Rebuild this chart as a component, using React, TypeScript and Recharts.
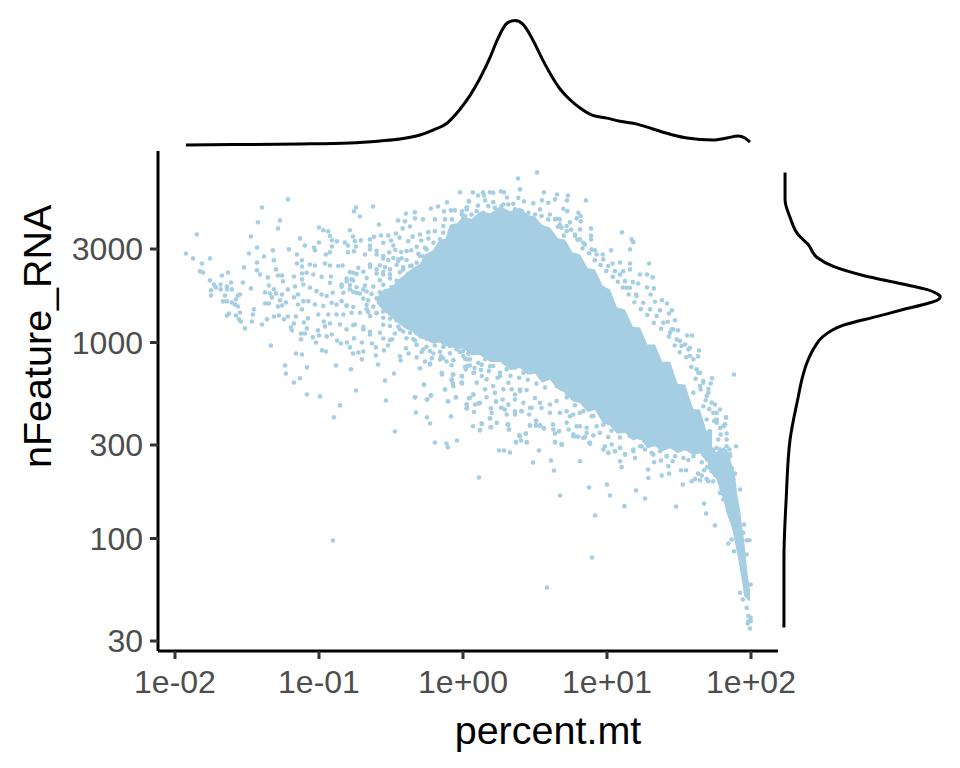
import {
  Area,
  ComposedChart,
  Line,
  LineChart,
  Scatter,
  XAxis,
  YAxis,
} from "recharts";

// everything is on log10 scale: x = log10(percent.mt), y = log10(nFeature_RNA)
const xTicks = [-2, -1, 0, 1, 2];
const xTickLabels = ["1e-02", "1e-01", "1e+00", "1e+01", "1e+02"];
const yTicks = [1.477, 2, 2.477, 3, 3.477];
const yTickLabels = ["30", "100", "300", "1000", "3000"];

const xDomain = [-2.118, 2.1875];
const yDomain = [1.426, 3.977];

// solid part of the cloud: [x, low, high]
const coreBand = [
  [-0.6, 3.2, 3.23], [-0.55, 3.16, 3.27], [-0.5, 3.13, 3.28], [-0.45, 3.1, 3.32], [-0.4, 3.07, 3.35],
  [-0.35, 3.055, 3.38], [-0.3, 3.02, 3.4], [-0.264, 3.015, 3.449], [-0.21, 2.995, 3.47], [-0.16, 3, 3.526],
  [-0.12, 2.98, 3.53], [-0.09, 2.985, 3.602], [-0.04, 2.96, 3.61], [0, 2.97, 3.643], [0.06, 2.935, 3.63],
  [0.118, 2.935, 3.668], [0.19, 2.9, 3.66], [0.257, 2.9, 3.694], [0.33, 2.86, 3.67], [0.396, 2.87, 3.689],
  [0.45, 2.835, 3.65], [0.5, 2.84, 3.643], [0.55, 2.795, 3.6], [0.604, 2.81, 3.587], [0.66, 2.76, 3.53],
  [0.708, 2.745, 3.526], [0.76, 2.7, 3.46], [0.813, 2.69, 3.449], [0.865, 2.645, 3.38], [0.917, 2.655, 3.372],
  [0.97, 2.59, 3.29], [1.021, 2.575, 3.27], [1.07, 2.535, 3.18], [1.125, 2.54, 3.168], [1.18, 2.5, 3.08],
  [1.229, 2.512, 3.077], [1.28, 2.46, 2.99], [1.333, 2.47, 2.99], [1.385, 2.445, 2.9], [1.438, 2.46, 2.903],
  [1.49, 2.435, 2.79], [1.542, 2.45, 2.786], [1.6, 2.425, 2.66], [1.646, 2.435, 2.658], [1.69, 2.39, 2.55],
  [1.729, 2.4, 2.556],
];

const tailBand = [
  [1.7, 2.36, 2.43], [1.73, 2.33, 2.46], [1.762, 2.3, 2.44], [1.785, 2.24, 2.47], [1.808, 2.2, 2.44],
  [1.83, 2.13, 2.46], [1.855, 2.08, 2.41], [1.872, 2.04, 2.36], [1.889, 1.978, 2.33], [1.905, 1.92, 2.22],
  [1.924, 1.842, 2.148], [1.938, 1.78, 2.06], [1.952, 1.706, 1.995], [1.975, 1.689, 1.825], [1.993, 1.68, 1.74],
];

const farLeftPoints = [
  [-1.924, 3.454], [-1.875, 3.429], [-1.848, 3.551], [-1.813, 3.403], [-1.757, 3.429], [-1.827, 3.363],
  [-1.806, 3.357], [-1.757, 3.317], [-1.73, 3.296], [-1.75, 3.266], [-1.75, 3.24], [-1.716, 3.281],
  [-1.683, 3.296], [-1.674, 3.342], [-1.632, 3.357], [-1.683, 3.271], [-1.639, 3.286], [-1.639, 3.271],
  [-1.611, 3.306], [-1.605, 3.271], [-1.653, 3.24], [-1.667, 3.21], [-1.639, 3.21], [-1.605, 3.204],
  [-1.563, 3.24], [-1.549, 3.245], [-1.577, 3.22], [-1.584, 3.194], [-1.563, 3.184], [-1.625, 3.148],
  [-1.639, 3.138], [-1.577, 3.138], [-1.549, 3.153], [-1.556, 3.118], [-1.542, 3.107], [-1.514, 3.072],
  [-1.528, 3.306], [-1.473, 3.276], [-1.521, 3.383], [-1.486, 3.454], [-1.473, 3.541], [-1.431, 3.485],
  [-1.424, 3.613], [-1.396, 3.689], [-1.431, 3.408], [-1.431, 3.368], [-1.41, 3.347], [-1.382, 3.439],
  [-1.32, 3.47], [-1.313, 3.419], [-1.299, 3.373], [-1.355, 3.332], [-1.285, 3.342], [-1.257, 3.342],
  [-1.348, 3.291], [-1.375, 3.255], [-1.341, 3.25], [-1.313, 3.271], [-1.327, 3.23], [-1.299, 3.25],
  [-1.257, 3.245], [-1.375, 3.199], [-1.348, 3.199], [-1.271, 3.215], [-1.285, 3.184], [-1.257, 3.189],
  [-1.23, 3.204], [-1.452, 3.169], [-1.459, 3.143], [-1.466, 3.107], [-1.396, 3.092], [-1.361, 3.118],
  [-1.313, 3.133], [-1.278, 3.138], [-1.243, 3.118], [-1.216, 3.133], [-1.334, 2.985], [-1.285, 3.582],
  [-1.271, 3.623], [-1.216, 3.73], [-1.209, 3.475], [-1.153, 3.449], [-1.153, 3.403], [-1.118, 3.419],
  [-1.118, 3.388], [-1.174, 3.337], [-1.118, 3.352], [-1.118, 3.322], [-1.25, 3.312], [-1.216, 3.271],
  [-1.167, 3.286], [-1.174, 3.23], [-1.146, 3.245], [-1.146, 3.194], [-1.118, 3.169], [-1.16, 3.133],
  [-1.174, 3.097], [-1.195, 3.077], [-1.188, 3.062], [-1.105, 3.102], [-1.077, 3.123], [-1.084, 3.072],
  [-1.125, 3.046], [-1.098, 3.046], [-1.125, 3.016], [-1.16, 2.944], [-1.118, 2.939], [-1.236, 2.883],
  [-1.23, 2.842], [-1.174, 2.796], [-1.132, 2.817], [-1.084, 2.873], [-1.084, 2.735], [-0.993, 2.725],
  [-0.903, 1.99],
];

const upperLeftPoints = [
  [-1.132, 3.531], [-1.098, 3.495], [-1.035, 3.485], [-1, 3.51], [-1, 3.587], [-0.97, 3.573],
  [-0.936, 3.567], [-0.924, 3.543], [-0.91, 3.522], [-0.875, 3.516], [-0.91, 3.49], [-0.924, 3.46],
  [-0.952, 3.449], [-1.028, 3.47], [-0.785, 3.573], [-0.764, 3.541], [-0.757, 3.669], [-0.743, 3.689],
  [-0.716, 3.643], [-0.625, 3.694], [-0.584, 3.602], [-0.82, 3.51], [-0.799, 3.495], [-0.799, 3.46],
  [-0.75, 3.517], [-0.743, 3.49], [-0.709, 3.521], [-0.757, 3.465], [-0.681, 3.449], [-0.646, 3.526],
  [-0.618, 3.539], [-0.646, 3.495], [-0.57, 3.546], [-0.519, 3.546], [-0.466, 3.556], [-0.419, 3.582],
  [-0.452, 3.623], [-0.403, 3.618], [-0.396, 3.658], [-0.334, 3.664], [-0.334, 3.633], [-0.368, 3.592],
  [-0.278, 3.628], [-0.223, 3.684], [-0.174, 3.694], [-0.111, 3.715], [-0.021, 3.766], [0.041, 3.72],
  [0.027, 3.689], [-0.132, 3.669], [-0.084, 3.674], [-0.056, 3.674], [-0.007, 3.669], [-0.195, 3.628],
  [-0.125, 3.628], [-0.077, 3.628], [0.002, 3.636], [-0.299, 3.551], [-0.241, 3.563], [-0.195, 3.568],
  [-0.137, 3.594], [-0.056, 3.594], [-0.554, 3.509], [-0.484, 3.495], [-0.38, 3.517], [-0.322, 3.488],
  [-0.264, 3.483], [-0.392, 3.466], [-0.554, 3.441], [-0.6, 3.449], [-0.646, 3.475],
];

const middlePoints = [
  [-1.063, 3.398], [-1.028, 3.393], [-0.959, 3.403], [-0.924, 3.393], [-0.866, 3.39], [-0.836, 3.393],
  [-1.086, 3.356], [-1.04, 3.347], [-0.982, 3.335], [-0.917, 3.337], [-1.109, 3.296], [-1.063, 3.279],
  [-1.017, 3.262], [-0.982, 3.245], [-0.947, 3.237], [-0.905, 3.254], [-0.924, 3.305], [-0.843, 3.296],
  [-0.808, 3.313], [-0.774, 3.322], [-0.831, 3.254], [-0.785, 3.271], [-0.739, 3.254], [-0.692, 3.271],
  [-0.762, 3.356], [-0.727, 3.381], [-0.646, 3.398], [-0.6, 3.373], [-0.554, 3.347], [-0.507, 3.373],
  [-0.449, 3.424], [-0.415, 3.373], [-0.368, 3.39], [-0.322, 3.407], [-1.109, 3.211], [-1.074, 3.211],
  [-1.028, 3.194], [-0.97, 3.186], [-0.912, 3.203], [-0.878, 3.194], [-0.843, 3.211], [-0.808, 3.186],
  [-0.774, 3.152], [-0.716, 3.152], [-0.669, 3.169], [-0.646, 3.135], [-0.6, 3.152], [-0.554, 3.126],
  [-0.507, 3.152], [-0.461, 3.169], [-1.005, 3.143], [-0.936, 3.143], [-0.878, 3.143], [-0.831, 3.143],
  [-0.855, 3.092], [-0.808, 3.067], [-0.75, 3.092], [-0.692, 3.067], [-0.646, 3.041], [-0.577, 3.05],
  [-0.507, 3.084], [-0.438, 3.067], [-0.345, 3.016], [-0.322, 2.99], [-0.276, 2.965], [-0.229, 2.956],
  [-0.183, 3.016], [-0.137, 2.999], [-0.091, 2.982], [-0.044, 2.965], [0, 2.956], [-0.368, 3.05],
  [-0.287, 3.041],
];

// denser clumps where the cloud starts to close up, left of the solid part
const clumpPoints = [
  [-0.554, 3.428], [-0.519, 3.42], [-0.484, 3.431], [-0.449, 3.417], [-0.426, 3.43], [-0.392, 3.421],
  [-0.646, 3.386], [-0.577, 3.394], [-0.542, 3.383], [-0.461, 3.397], [-0.415, 3.385], [-0.357, 3.393],
  [-0.785, 3.359], [-0.739, 3.35], [-0.692, 3.361], [-0.6, 3.352], [-0.554, 3.36], [-0.507, 3.348],
  [-0.438, 3.358], [-0.38, 3.351], [-0.808, 3.326], [-0.762, 3.316], [-0.669, 3.329], [-0.577, 3.318],
  [-0.507, 3.327], [-0.461, 3.315], [-0.843, 3.284], [-0.785, 3.293], [-0.739, 3.282], [-0.681, 3.291],
  [-0.623, 3.285], [-0.554, 3.294], [-0.496, 3.283], [-0.438, 3.29], [-0.762, 3.257], [-0.716, 3.25],
  [-0.669, 3.26], [-0.635, 3.248], [-0.577, 3.256], [-0.531, 3.249], [-0.473, 3.259], [-0.415, 3.251],
  [-0.692, 3.224], [-0.658, 3.215], [-0.6, 3.226], [-0.554, 3.218], [-0.507, 3.224], [-0.449, 3.214],
  [-0.808, 3.19], [-0.762, 3.181], [-0.669, 3.192], [-0.623, 3.183], [-0.554, 3.189], [-0.484, 3.18],
  [-0.438, 3.192], [-0.658, 3.155], [-0.6, 3.149], [-0.554, 3.158], [-0.496, 3.147], [-0.449, 3.156],
  [-0.392, 3.15], [-0.507, 3.121], [-0.461, 3.113], [-0.403, 3.124], [-0.345, 3.115], [-0.762, 3.088],
  [-0.692, 3.08], [-0.554, 3.09], [-0.449, 3.081], [-0.368, 3.087], [-0.299, 3.079], [-0.646, 3.055],
  [-0.473, 3.046], [-0.415, 3.056], [-0.322, 3.047], [-0.253, 3.053], [-0.554, 3.02], [-0.507, 3.012],
  [-0.392, 3.022], [-0.334, 3.011], [-0.253, 3.019], [-0.183, 3.013], [-0.125, 3.021], [-0.322, 2.987],
  [-0.253, 2.978], [-0.195, 2.985], [-0.137, 2.977], [-0.079, 2.986], [-0.021, 2.979], [0.025, 2.985],
  [-0.287, 2.952], [-0.206, 2.944], [-0.16, 2.953], [-0.091, 2.945], [-0.021, 2.951], [0.037, 2.943],
  [-0.137, 2.918], [-0.067, 2.91], [0.014, 2.917], [-0.079, 2.884], [0.014, 2.876], [0.048, 2.883],
  [-0.6, 3.468], [-0.512, 3.46], [-0.47, 3.472], [-0.43, 3.462], [-0.36, 3.47], [-0.31, 3.452],
  [-0.28, 3.44], [-0.5, 3.52], [-0.44, 3.535], [-0.35, 3.54], [-0.29, 3.52], [-0.24, 3.53],
];

// dots hugging the edge of the solid part, so that it does not end in a clean line
const edgePoints = [
  [0.639, 3.628], [0.673, 3.602], [0.72, 3.568], [0.778, 3.551], [0.812, 3.526], [0.847, 3.5],
  [0.893, 3.475], [0.928, 3.449], [0.974, 3.424], [1.009, 3.39], [1.055, 3.364], [1.09, 3.347],
  [1.125, 3.313], [1.16, 3.279], [1.206, 3.237], [1.252, 3.203], [1.299, 3.169], [1.345, 3.135],
  [1.391, 3.101], [1.449, 3.067], [1.484, 3.016], [1.518, 2.982], [1.565, 2.965], [1.6, 2.914],
  [1.634, 2.846], [1.669, 2.795], [1.704, 2.744], [1.727, 2.693], [1.761, 2.641], [1.808, 2.573],
  [1.831, 2.505], [0.66, 3.59], [0.7, 3.545], [0.75, 3.575], [0.795, 3.525], [0.83, 3.48],
  [0.875, 3.455], [0.915, 3.42], [0.955, 3.395], [0.995, 3.365], [1.04, 3.335], [1.075, 3.31],
  [1.11, 3.28], [1.15, 3.245], [1.19, 3.205], [1.235, 3.17], [1.28, 3.14], [1.325, 3.1],
  [1.375, 3.07], [1.43, 3.03], [1.47, 2.985], [1.505, 2.95], [1.55, 2.925], [1.585, 2.875],
  [1.615, 2.815], [1.65, 2.76], [1.685, 2.705], [1.71, 2.66], [1.745, 2.6], [1.79, 2.53],
  [-0.009, 3.653], [0.025, 3.679], [0.06, 3.653], [0.095, 3.67], [0.141, 3.662], [0.176, 3.696],
  [0.222, 3.687], [0.268, 3.696], [0.315, 3.704], [0.361, 3.679], [0.407, 3.67], [0.454, 3.662],
  [0.5, 3.653], [0.546, 3.645], [0.592, 3.628], [-0.299, 3.441], [-0.253, 3.475], [-0.206, 3.509],
  [-0.16, 3.526], [-0.137, 3.56], [-0.091, 3.568], [-0.044, 3.577], [-0.01, 3.611], [0.014, 3.645],
  [0.002, 2.931], [0.048, 2.914], [0.106, 2.896], [0.153, 2.914], [0.21, 2.88], [0.257, 2.846],
  [0.303, 2.863], [0.361, 2.871], [0.419, 2.846], [0.477, 2.871], [0.535, 2.829], [0.592, 2.846],
  [0.65, 2.778], [0.72, 2.72], [0.778, 2.68], [0.836, 2.65], [0.905, 2.625], [0.974, 2.58],
  [1.032, 2.55], [1.09, 2.515], [0.03, 2.88], [0.08, 2.87], [0.125, 2.86], [0.18, 2.855],
  [0.24, 2.82], [0.33, 2.83], [0.39, 2.82], [0.45, 2.81], [0.51, 2.79], [0.57, 2.77],
];

const lowerLeftPoints = [
  [-0.855, 2.679], [-0.896, 2.618], [-0.743, 2.755], [-0.778, 2.863], [-0.882, 2.883], [-0.979, 2.96],
  [-0.952, 2.954], [-1.042, 3.026], [-1, 3.036], [-1.021, 3], [-1.007, 3.062], [-0.959, 3.082],
  [-0.966, 3.107], [-0.924, 3.097], [-0.947, 3.031], [-0.912, 3.041], [-0.875, 3.01], [-0.848, 2.995],
  [-0.806, 3], [-0.785, 2.975], [-0.764, 2.944], [-0.727, 2.949], [-0.692, 2.954], [-0.702, 2.914],
  [-0.757, 3.021], [-0.702, 3], [-0.632, 2.995], [-0.605, 2.975], [-0.605, 2.934], [-0.59, 2.888],
  [-0.549, 2.96], [-0.521, 2.985], [-0.493, 3.016], [-0.438, 2.93], [-0.433, 2.908], [-0.378, 2.944],
  [-0.396, 2.97], [-0.322, 2.924], [-0.299, 2.868], [-0.264, 2.903], [-0.229, 2.888], [-0.216, 2.919],
  [-0.153, 2.929], [-0.146, 2.837], [-0.114, 2.903], [-0.542, 2.806], [-0.479, 2.842], [-0.535, 2.704],
  [-0.473, 2.546], [-0.327, 2.643], [-0.334, 2.72], [-0.271, 2.786], [-0.248, 2.71], [-0.223, 2.73],
  [-0.25, 2.618], [-0.229, 2.587], [-0.195, 2.49], [-0.114, 2.485], [-0.105, 2.465], [-0.042, 2.5],
  [-0.084, 2.623], [-0.104, 2.699], [-0.125, 2.761], [-0.049, 2.72], [-0.07, 2.791], [-0.077, 2.812],
  [-0.007, 2.791], [0.027, 2.684], [0.027, 2.664], [0.041, 2.715], [-0.007, 2.827], [0.02, 2.863],
  [-0.07, 2.837], [-0.16, 2.913], [-0.229, 2.893], [-0.148, 2.845], [-0.067, 2.836], [-0.079, 2.808],
  [-0.009, 2.794], [-0.067, 2.777], [-0.125, 2.76], [-0.222, 2.729], [-0.252, 2.709], [-0.333, 2.721],
  [-0.271, 2.785], [-0.104, 2.7], [-0.049, 2.721],
];

const topFringePoints = [
  [0.069, 3.766], [0.104, 3.75], [0.139, 3.766], [0.146, 3.75], [0.187, 3.766], [0.21, 3.764],
  [0.264, 3.771], [0.285, 3.766], [0.382, 3.837], [0.514, 3.868], [0.396, 3.781], [0.562, 3.766],
  [0.653, 3.755], [0.729, 3.75], [0.722, 3.725], [0.854, 3.725], [0.042, 3.72], [0.153, 3.725],
  [0.21, 3.716], [0.305, 3.74], [0.384, 3.738], [0.423, 3.72], [0.548, 3.725], [0.639, 3.73],
  [0.025, 3.689], [0.104, 3.699], [0.28, 3.704], [0.349, 3.708], [0.488, 3.71], [0.592, 3.713],
  [0.535, 3.679], [0.697, 3.682], [0.724, 3.67], [0.801, 3.662], [0.817, 3.645], [0.789, 3.633],
  [0.817, 3.618], [0.743, 3.613], [0.889, 3.582], [0.812, 3.577], [0.889, 3.546], [0.889, 3.526],
  [1.104, 3.562], [1.171, 3.526], [1.183, 3.512], [1.16, 3.475], [1.028, 3.47], [0.97, 3.449],
  [0.917, 3.471], [0.835, 3.509], [0.778, 3.543], [0.685, 3.585], [0.65, 3.631], [0.604, 3.653],
  [0.673, 3.628], [0.72, 3.594], [1.039, 3.403], [1.09, 3.408], [1.16, 3.403], [1.292, 3.403],
  [1.229, 3.347], [1.278, 3.347], [1.317, 3.332], [1.16, 3.373], [1.113, 3.364], [1.18, 3.308],
  [1.217, 3.301], [1.278, 3.281], [1.326, 3.276], [1.303, 3.245], [1.201, 3.245], [1.136, 3.279],
];

const rightFringePoints = [
  [1.333, 3.208], [1.382, 3.215], [1.417, 3.199], [1.368, 3.164], [1.451, 3.164], [1.43, 3.148],
  [1.472, 3.113], [1.421, 3.106], [1.493, 3.062], [1.556, 3.036], [1.59, 3.036], [1.46, 3.067],
  [1.437, 3.05], [1.507, 3.007], [1.542, 2.99], [1.576, 2.973], [1.639, 2.959], [1.632, 2.929],
  [1.576, 2.931], [1.622, 2.863], [1.646, 2.846], [1.882, 2.837], [1.729, 2.817], [1.72, 2.791],
  [1.669, 2.803], [1.704, 2.764], [1.692, 2.727], [1.75, 2.684], [1.785, 2.658], [1.826, 2.618],
  [1.819, 2.582], [1.831, 2.536], [1.896, 2.471], [1.738, 2.641], [1.761, 2.591], [1.646, 2.778],
  [1.6, 2.744], [1.669, 2.675], [1.692, 2.607], [1.715, 2.548], [1.773, 2.505], [1.831, 2.471],
  [1.738, 2.454], [1.785, 2.437], [1.854, 2.429], [1.827, 2.617], [1.82, 2.581], [1.785, 2.564],
  [1.762, 2.607],
];

const lowerFringePoints = [
  [0.025, 2.914], [-0.009, 2.829], [-0.009, 2.795], [0.095, 2.795], [0.076, 2.846], [0.13, 2.829],
  [0.164, 2.812], [0.21, 2.778], [0.153, 2.761], [0.072, 2.735], [0.048, 2.718], [0.025, 2.684],
  [0.025, 2.664], [0.118, 2.692], [0.083, 2.684], [0.076, 2.645], [0.222, 2.743], [0.28, 2.761],
  [0.338, 2.761], [0.396, 2.752], [0.442, 2.757], [0.361, 2.735], [0.275, 2.709], [0.229, 2.698],
  [0.361, 2.709], [0.419, 2.692], [0.477, 2.667], [0.535, 2.692], [0.604, 2.684], [0.264, 2.667],
  [0.291, 2.658], [0.194, 2.664], [0.199, 2.641], [0.303, 2.633], [0.361, 2.633], [0.407, 2.65],
  [0.46, 2.633], [0.187, 2.613], [0.13, 2.587], [0.069, 2.573], [0.194, 2.568], [0.234, 2.59],
  [0.31, 2.582], [0.319, 2.556], [0.118, 2.553], [0.465, 2.577], [0.507, 2.577], [0.535, 2.577],
  [0.562, 2.563], [0.507, 2.599], [0.625, 2.582], [0.639, 2.536], [0.667, 2.548], [0.391, 2.526],
  [0.435, 2.536], [0.368, 2.492], [0.403, 2.5], [0.442, 2.492], [0.639, 2.492], [0.685, 2.48],
  [0.528, 2.449], [0.25, 2.449], [0.285, 2.449], [0.326, 2.439], [0.766, 2.531], [0.801, 2.519],
  [0.847, 2.519], [0.877, 2.488], [0.905, 2.526], [0.951, 2.539], [1.009, 2.517], [0.986, 2.471],
  [1.009, 2.437], [1.055, 2.446], [1.09, 2.463], [1.125, 2.429], [1.183, 2.454], [1.241, 2.471],
  [1.31, 2.437], [1.414, 2.42], [0.72, 2.59], [0.789, 2.573], [0.859, 2.565], [0.928, 2.573],
  [0.974, 2.624], [0.673, 2.641], [0.743, 2.624], [0.812, 2.641], [0.893, 2.624], [0.604, 2.641],
  [0.65, 2.701], [0.72, 2.743], [0.789, 2.71], [0.859, 2.692], [0.951, 2.667], [1.044, 2.607],
  [1.113, 2.556], [1.16, 2.522], [1.229, 2.514], [1.299, 2.539], [1.368, 2.522], [1.461, 2.505],
  [1.53, 2.48], [1.6, 2.454], [1.669, 2.429], [1.484, 2.454], [1.368, 2.471], [0.072, 2.734],
  [0.106, 2.688], [0.164, 2.721], [0.229, 2.7], [0.269, 2.666], [0.315, 2.683], [0.361, 2.649],
  [0.407, 2.649], [0.465, 2.666], [0.188, 2.612], [0.13, 2.586], [0.118, 2.552], [0.192, 2.568],
  [0.315, 2.581], [0.319, 2.556], [0.396, 2.522], [0.437, 2.535], [0.368, 2.49], [0.444, 2.49],
  [0.507, 2.602], [0.507, 2.576], [0.535, 2.576], [0.562, 2.561], [0.465, 2.576], [0.627, 2.556],
  [0.667, 2.547], [0.639, 2.49], [0.687, 2.479], [0.072, 2.845], [0.13, 2.887], [0.188, 2.879],
  [0.257, 2.828], [0.315, 2.794], [0.396, 2.76], [0.5, 2.717], [0.546, 2.666], [0.72, 2.649],
  [0.766, 2.632], [0.812, 2.573], [0.859, 2.539], [0.836, 2.513], [0.766, 2.522], [0.734, 2.556],
  [0.882, 2.484],
];

const bottomPoints = [
  [0.813, 2.394], [0.686, 2.479], [0.778, 2.522], [0.882, 2.488], [0.975, 2.454], [1.033, 2.479],
  [1.01, 2.437], [1.056, 2.445], [1.091, 2.462], [1.125, 2.428], [1.091, 2.394], [1.102, 2.364],
  [1.183, 2.445], [1.195, 2.411], [1.264, 2.454], [1.322, 2.428], [1.327, 2.389], [1.375, 2.398],
  [1.285, 2.352], [1.287, 2.309], [1.426, 2.369], [1.456, 2.394], [1.38, 2.321], [1.431, 2.331],
  [1.514, 2.348], [1.549, 2.348], [1.526, 2.275], [1.588, 2.292], [1.611, 2.304], [1.632, 2.331],
  [1.658, 2.321], [1.646, 2.297], [1.692, 2.304], [1.704, 2.292], [1.737, 2.292], [1.674, 2.348],
  [1.695, 2.364], [1.658, 2.389], [1.531, 2.411], [1.565, 2.4], [1.6, 2.42], [1.473, 2.42],
  [1.415, 2.42], [1.368, 2.445], [1.23, 2.471], [0.875, 2.26], [1, 2.275], [1.021, 2.219],
  [0.674, 2.219], [1.202, 2.245], [1.264, 2.204], [1.121, 2.165], [0.917, 2.117], [0.896, 1.903],
  [1.48, 2.163], [1.674, 2.178], [1.688, 2.127], [1.75, 2.066], [0.583, 1.75], [0.111, 2.311],
  [0.632, 2.347], [0.486, 2.388], [0.611, 2.398],
];

const tailPoints = [
  [1.97, 1.646], [1.982, 1.604], [1.998, 1.595], [1.982, 1.578], [1.998, 1.578], [1.977, 1.566],
  [1.993, 1.541], [1.843, 1.974], [1.866, 1.995], [1.97, 1.991], [1.989, 1.991], [1.952, 2.071],
  [1.924, 2.25], [1.882, 1.935], [1.97, 1.918], [1.947, 2.029], [1.924, 1.723], [1.943, 1.689],
  [1.998, 1.765], [1.889, 2.331], [1.866, 2.36], [1.855, 2.42], [1.85, 2.454], [1.808, 2.454],
  [1.762, 2.462], [1.716, 2.42], [1.692, 2.445], [1.739, 2.437], [1.774, 2.403], [1.762, 2.352],
  [1.727, 2.343], [1.75, 2.326], [1.785, 2.233], [1.808, 2.199],
];

// marginal densities, scaled so that the peak is about 1
const topDensityX = [
  -1.924, -1.479, -1.132, -0.785, -0.576, -0.438, -0.299, -0.208, -0.111, -0.021, 0.049, 0.118,
  0.188, 0.243, 0.306, 0.361, 0.417, 0.486, 0.549, 0.604, 0.674, 0.743, 0.813, 0.896, 1, 1.09,
  1.208, 1.319, 1.458, 1.556, 1.736, 1.833, 1.91, 1.958, 1.993,
];
const topDensityY = [
  0.008, 0.012, 0.016, 0.024, 0.04, 0.055, 0.087, 0.126, 0.18, 0.29, 0.4, 0.535, 0.7, 0.85, 0.97,
  0.99, 0.96, 0.835, 0.69, 0.575, 0.45, 0.365, 0.3, 0.244, 0.22, 0.195, 0.173, 0.134, 0.087, 0.063,
  0.047, 0.063, 0.079, 0.063, 0.03,
];

const rightDensityY = [
  3.867, 3.73, 3.638, 3.551, 3.5, 3.434, 3.388, 3.342, 3.301, 3.27, 3.245, 3.235, 3.219, 3.199,
  3.168, 3.133, 3.087, 3.031, 2.98, 2.898, 2.811, 2.719, 2.505, 2.199, 1.893, 1.546,
];
const rightDensityX = [
  0.013, 0.013, 0.045, 0.096, 0.16, 0.217, 0.32, 0.51, 0.745, 0.917, 0.987, 1, 0.987, 0.917, 0.764,
  0.6, 0.38, 0.255, 0.204, 0.153, 0.12, 0.096, 0.045, 0.02, 0.006, 0.006,
];

const toPoints = (rows: number[][]) => rows.map(([x, y]) => ({ x, y }));
const toBand = (rows: number[][]) => rows.map(([x, low, high]) => ({ x, band: [low, high] }));

const topDensity = topDensityX.map((x, i) => ({ x, d: topDensityY[i] }));
const rightDensity = rightDensityY.map((y, i) => ({ y, d: rightDensityX[i] }));

const pointGroups = [
  farLeftPoints,
  upperLeftPoints,
  middlePoints,
  clumpPoints,
  edgePoints,
  lowerLeftPoints,
  topFringePoints,
  rightFringePoints,
  lowerFringePoints,
  bottomPoints,
  tailPoints,
];

const BLUE = "#A6CEE3";
const FONT = "'Liberation Sans', Arial, sans-serif";

const dot = (p: any) => <circle cx={p.cx} cy={p.cy} r={2.3} fill={BLUE} />;

export default function App() {
  const tickStyle = { fontSize: 32, fill: "#4D4D4D", fontFamily: FONT };
  const titleStyle = { fontSize: 39.5, fill: "#000000", fontFamily: FONT };

  return (
    <div style={{ position: "absolute", left: 0, top: 0, width: 960, height: 768, background: "#fff" }}>
      <div style={{ position: "absolute", left: 0, top: 0 }}>
        <ComposedChart width={960} height={768} margin={{ top: 151, right: 182, bottom: 0, left: 0 }}>
          <XAxis
            type="number"
            dataKey="x"
            domain={xDomain}
            ticks={xTicks}
            allowDataOverflow
            height={117}
            tick={tickStyle}
            tickSize={8}
            tickMargin={11}
            tickFormatter={(v: number) => xTickLabels[xTicks.indexOf(v)]}
            interval={0}
            axisLine={{ stroke: "#000", strokeWidth: 3 }}
            tickLine={{ stroke: "#333", strokeWidth: 3 }}
            label={{ value: "percent.mt", position: "insideBottom", offset: 24, dx: 80, style: titleStyle }}
          />
          <YAxis
            type="number"
            dataKey="y"
            domain={yDomain}
            ticks={yTicks}
            allowDataOverflow
            width={158}
            tick={tickStyle}
            tickSize={8}
            tickMargin={7}
            tickFormatter={(v: number) => yTickLabels[yTicks.indexOf(v)]}
            interval={0}
            axisLine={{ stroke: "#000", strokeWidth: 3 }}
            tickLine={{ stroke: "#333", strokeWidth: 3 }}
            label={{ value: "nFeature_RNA", angle: -90, position: "insideLeft", offset: 37, dy: 67, style: titleStyle }}
          />
          <Area
            data={toBand(coreBand)}
            dataKey="band"
            type="linear"
            stroke="none"
            fill={BLUE}
            fillOpacity={1}
            dot={false}
            activeDot={false}
            isAnimationActive={false}
          />
          <Area
            data={toBand(tailBand)}
            dataKey="band"
            type="linear"
            stroke="none"
            fill={BLUE}
            fillOpacity={1}
            dot={false}
            activeDot={false}
            isAnimationActive={false}
          />
          {pointGroups.map((rows, i) => (
            <Scatter key={i} data={toPoints(rows)} fill={BLUE} shape={dot} isAnimationActive={false} />
          ))}
        </ComposedChart>
      </div>

      {/* top margin density */}
      <div style={{ position: "absolute", left: 0, top: 0 }}>
        <LineChart width={960} height={160} data={topDensity} margin={{ top: 13, right: 182, bottom: 14, left: 158 }}>
          <XAxis type="number" dataKey="x" domain={xDomain} hide />
          <YAxis type="number" domain={[0, 1.05]} hide />
          <Line dataKey="d" type="monotone" stroke="#000" strokeWidth={3} dot={false} isAnimationActive={false} />
        </LineChart>
      </div>

      {/* right margin density */}
      <div style={{ position: "absolute", left: 0, top: 0 }}>
        <LineChart
          layout="vertical"
          width={960}
          height={768}
          data={rightDensity}
          margin={{ top: 151, right: 15, bottom: 117, left: 783 }}
        >
          <XAxis type="number" domain={[0, 1.03]} hide />
          <YAxis type="number" dataKey="y" domain={yDomain} reversed hide />
          <Line dataKey="d" type="monotone" stroke="#000" strokeWidth={3} dot={false} isAnimationActive={false} />
        </LineChart>
      </div>
    </div>
  );
}
